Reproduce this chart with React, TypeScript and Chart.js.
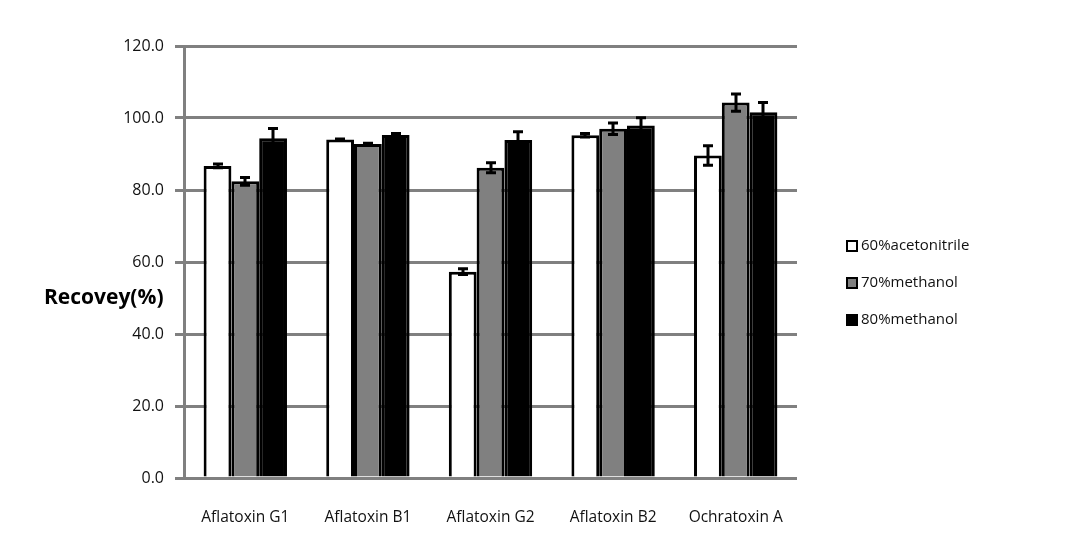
import React, { useEffect, useRef } from "react";
import { Chart, registerables } from "chart.js";

Chart.register(...registerables);

const categories = ["Aflatoxin G1", "Aflatoxin B1", "Aflatoxin G2", "Aflatoxin B2", "Ochratoxin A"];
const seriesLabels = ["60%acetonitrile", "70%methanol", "80%methanol"];
const acetonitrile60 = [86.7, 94.0, 57.3, 95.2, 89.6];
const methanol70 = [82.4, 92.8, 86.2, 97.0, 104.3];
const methanol80 = [94.4, 95.3, 93.9, 97.9, 101.6];
const err60 = [0.5, 0.2, 0.8, 0.5, 2.7];
const err70 = [1.1, 0.2, 1.4, 1.6, 2.4];
const err80 = [2.7, 0.4, 2.3, 2.2, 2.7];
const yTicks = [0, 20, 40, 60, 80, 100, 120];
const axisTitle = "Recovey(%)";

const FONT = "'Open Sans', 'Noto Sans', sans-serif";

const fills = ["#ffffff", "#808080", "#000000"];
const errors = [err60, err70, err80];

const errorBarPlugin = {
  id: "errorBars",
  afterDatasetsDraw(chart: any) {
    const ctx = chart.ctx;
    const y = chart.scales.y;
    ctx.save();
    ctx.strokeStyle = "#000";
    ctx.lineWidth = 3;
    chart.data.datasets.forEach((ds: any, di: number) => {
      const meta = chart.getDatasetMeta(di);
      meta.data.forEach((bar: any, i: number) => {
        const v = ds.data[i];
        const e = errors[di][i];
        const top = y.getPixelForValue(v + e);
        const bot = y.getPixelForValue(v - e);
        const x = Math.round(bar.x);
        ctx.beginPath();
        ctx.moveTo(x, top);
        ctx.lineTo(x, bot);
        ctx.moveTo(x - 5, top);
        ctx.lineTo(x + 5, top);
        ctx.moveTo(x - 5, bot);
        ctx.lineTo(x + 5, bot);
        ctx.stroke();
      });
    });
    ctx.restore();
  },
};

const decorPlugin = {
  id: "decor",
  afterDraw(chart: any) {
    const ctx = chart.ctx;
    ctx.save();
    ctx.fillStyle = "#000";
    ctx.font = `bold 21px ${FONT}`;
    ctx.textAlign = "left";
    ctx.textBaseline = "middle";
    ctx.fillText(axisTitle, 44, 298);
    const rows = [246, 283, 320];
    ctx.font = `15px ${FONT}`;
    chart.data.datasets.forEach((ds: any, i: number) => {
      const cy = rows[i];
      ctx.fillStyle = fills[i];
      ctx.fillRect(846, cy - 6, 12, 12);
      ctx.strokeStyle = "#000";
      ctx.lineWidth = 2;
      ctx.strokeRect(847, cy - 5, 10, 10);
      ctx.fillStyle = "#111";
      ctx.textBaseline = "middle";
      ctx.fillText(ds.label, 861, cy);
    });
    ctx.restore();
  },
};

export default function App() {
  const ref = useRef<HTMLCanvasElement>(null);
  useEffect(() => {
    if (!ref.current) return;
    const chart = new Chart(ref.current, {
      type: "bar",
      data: {
        labels: categories,
        datasets: [acetonitrile60, methanol70, methanol80].map((d, i) => ({
          label: seriesLabels[i],
          data: d,
          backgroundColor: fills[i],
          borderColor: "#000",
          borderWidth: 3,
          borderSkipped: "bottom",
          categoryPercentage: 0.68,
          barPercentage: 1,
        })),
      },
      options: {
        animation: false,
        responsive: false,
        maintainAspectRatio: false,
        layout: { padding: { left: 0, top: 46, right: 272, bottom: 0 } },
        plugins: { legend: { display: false }, tooltip: { enabled: false } },
        scales: {
          x: {
            grid: { display: false },
            border: { display: false },
            ticks: { color: "#111", font: { family: FONT, size: 15.5 }, padding: 22, maxRotation: 0 },
            afterFit(scale: any) {
              scale.height = 67;
            },
          },
          y: {
            min: 0,
            max: 120,
            afterBuildTicks(scale: any) {
              scale.ticks = yTicks.map((v) => ({ value: v }));
            },
            grid: { color: "#808080", lineWidth: 3, tickLength: 9 },
            border: { display: true, color: "#808080", width: 3 },
            ticks: {
              color: "#111",
              font: { family: FONT, size: 16 },
              padding: 11,
              callback: (v: any) => Number(v).toFixed(1),
            },
            afterFit(scale: any) {
              scale.width = 184;
            },
          },
        },
      },
      plugins: [errorBarPlugin, decorPlugin],
    });
    return () => chart.destroy();
  }, []);
  return (
    <div style={{ position: "absolute", left: 0, top: 0, width: 1069, height: 545, background: "#fff" }}>
      <canvas ref={ref} width={1069} height={545} />
    </div>
  );
}
